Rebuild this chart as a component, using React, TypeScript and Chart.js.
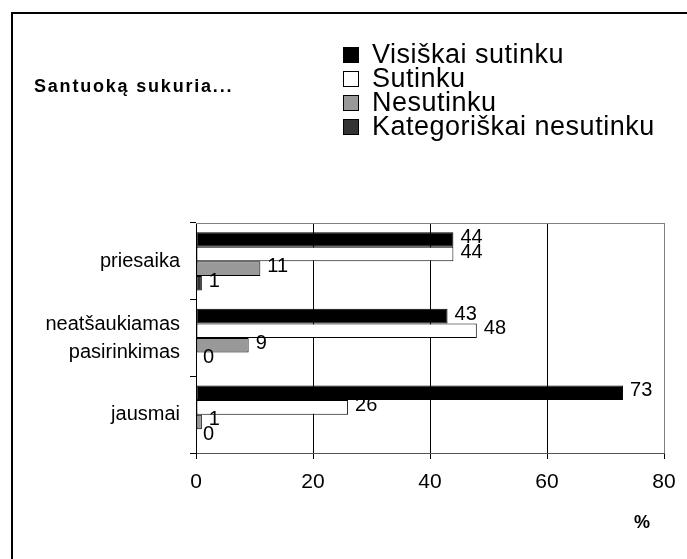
import React, { useEffect, useRef } from 'react';
import { Chart, registerables } from 'chart.js';

Chart.register(...registerables);

const categories: (string | string[])[] = ['priesaika', ['neatšaukiamas', 'pasirinkimas'], 'jausmai'];
const seriesNames = ['Visiškai sutinku', 'Sutinku', 'Nesutinku', 'Kategoriškai nesutinku'];
const visiskaiSutinku = [44, 43, 73];
const sutinku = [44, 48, 26];
const nesutinku = [11, 9, 1];
const kategoriskaiNesutinku = [1, 0, 0];
const xTicks = [0, 20, 40, 60, 80];
const seriesColors = ['#000000', '#ffffff', '#999999', '#333333'];
const titleText = 'Santuoką sukuria...';
const axisUnit = '%';

const FONT = '"Liberation Sans", Arial, Helvetica, sans-serif';

export default function App() {
  const ref = useRef<HTMLCanvasElement>(null);

  useEffect(() => {
    document.body.style.margin = '0';
    const canvas = ref.current!;
    const seriesData = [visiskaiSutinku, sutinku, nesutinku, kategoriskaiNesutinku];

    const decor = {
      id: 'decor',
      beforeDraw(chart: any) {
        const ctx = chart.ctx;
        ctx.save();
        ctx.fillStyle = '#ffffff';
        ctx.fillRect(0, 0, chart.width, chart.height);
        ctx.restore();
      },
      beforeDatasetsDraw(chart: any) {
        const ctx = chart.ctx;
        const a = chart.chartArea;
        ctx.save();
        ctx.strokeStyle = '#808080';
        ctx.lineWidth = 1;
        ctx.beginPath();
        ctx.moveTo(a.left, a.top + 0.5);
        ctx.lineTo(a.right + 1, a.top + 0.5);
        ctx.stroke();
        ctx.restore();
      },
      afterDatasetsDraw(chart: any) {
        const ctx = chart.ctx;
        ctx.save();
        ctx.font = `20px ${FONT}`;
        ctx.fillStyle = '#000';
        ctx.textBaseline = 'middle';
        ctx.textAlign = 'left';
        chart.data.datasets.forEach((ds: any, di: number) => {
          const meta = chart.getDatasetMeta(di);
          meta.data.forEach((el: any, i: number) => {
            const v = ds.data[i];
            ctx.fillText(String(v), el.x + 7, el.y - 2);
          });
        });
        ctx.restore();
      },
      afterDraw(chart: any) {
        const ctx = chart.ctx;
        ctx.save();
        // outer frame
        ctx.strokeStyle = '#000';
        ctx.lineWidth = 2;
        ctx.beginPath();
        ctx.moveTo(12, chart.height + 5);
        ctx.lineTo(12, 13);
        ctx.lineTo(chart.width + 5, 13);
        ctx.stroke();

        // title
        ctx.fillStyle = '#000';
        ctx.textBaseline = 'middle';
        ctx.textAlign = 'left';
        ctx.font = `bold 18px ${FONT}`;
        (ctx as any).letterSpacing = '1.8px';
        ctx.fillText(titleText, 34, 87);

        // legend
        const lx = 343;
        const tx = 372;
        const y0 = 55;
        const dy = 24;
        ctx.font = `27px ${FONT}`;
        (ctx as any).letterSpacing = '0.5px';
        seriesNames.forEach((name, i) => {
          const cy = y0 + i * dy;
          ctx.fillStyle = seriesColors[i];
          ctx.fillRect(lx, cy - 8, 16, 16);
          ctx.strokeStyle = '#000';
          ctx.lineWidth = 1;
          ctx.strokeRect(lx + 0.5, cy - 7.5, 15, 15);
          ctx.fillStyle = '#000';
          ctx.fillText(name, tx, cy + 1);
        });

        // unit label
        (ctx as any).letterSpacing = '0px';
        ctx.font = `bold 18px ${FONT}`;
        ctx.textAlign = 'center';
        ctx.fillText(axisUnit, 642, 523);
        ctx.restore();
      },
    };

    const chart = new Chart(canvas, {
      type: 'bar',
      data: {
        labels: categories,
        datasets: seriesNames.map((name, i) => ({
          label: name,
          data: seriesData[i],
          backgroundColor: seriesColors[i],
          borderColor: '#000000',
          borderWidth: 1,
          borderSkipped: false,
          categoryPercentage: 0.76,
          barPercentage: 1,
        })),
      },
      options: {
        indexAxis: 'y',
        responsive: false,
        animation: false,
        devicePixelRatio: 1,
        layout: { padding: { top: 223, right: 23, bottom: 66, left: 0 } },
        plugins: {
          legend: { display: false },
          title: { display: false },
          tooltip: { enabled: false },
        },
        scales: {
          x: {
            type: 'linear',
            min: xTicks[0],
            max: xTicks[xTicks.length - 1],
            afterBuildTicks: (scale: any) => {
              scale.ticks = xTicks.map((v) => ({ value: v }));
            },
            afterFit: (scale: any) => {
              scale.height = 40;
            },
            grid: {
              color: (c: any) => (c.tick && c.tick.value === 80 ? '#808080' : '#000000'),
              tickColor: '#000000',
              tickLength: 6,
              lineWidth: 1,
            },
            border: { color: '#555555', width: 1 },
            ticks: {
              color: '#000',
              font: { family: FONT, size: 21 },
              padding: 11,
              maxRotation: 0,
            },
          },
          y: {
            type: 'category',
            afterFit: (scale: any) => {
              scale.width = 196;
            },
            grid: {
              drawOnChartArea: false,
              drawTicks: true,
              tickLength: 6,
              color: '#000000',
              offset: true,
            },
            border: { color: '#000000', width: 1 },
            ticks: {
              color: '#000',
              font: { family: FONT, size: 20, lineHeight: '28px' },
              padding: 10,
            },
          },
        },
      },
      plugins: [decor],
    } as any);

    return () => chart.destroy();
  }, []);

  return (
    <div style={{ width: 687, height: 559 }}>
      <canvas ref={ref} width={687} height={559} style={{ display: 'block' }} />
    </div>
  );
}
